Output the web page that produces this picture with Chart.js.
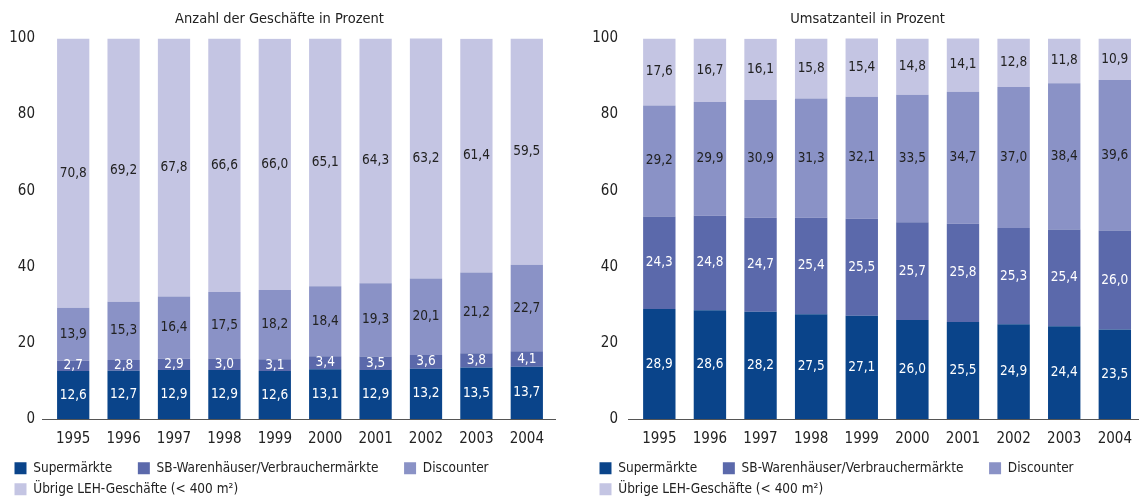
<!DOCTYPE html>
<html>
<head>
<meta charset="utf-8">
<script src="https://cdn.jsdelivr.net/npm/chart.js@4"></script>
<style>
    body { margin: 0; background: #fff; overflow: hidden; }
    #left { position: absolute; left: 0; top: 0; }
    #right { position: absolute; left: 570px; top: 0; }
</style>
</head>
<body>
<canvas id="left" width="570" height="506"></canvas>
<canvas id="right" width="573" height="506"></canvas>
<script>
// Data
let years = ['1995', '1996', '1997', '1998', '1999', '2000', '2001', '2002', '2003', '2004'];
let seriesNames = ['Supermärkte', 'SB-Warenhäuser/Verbrauchermärkte', 'Discounter', 'Übrige LEH-Geschäfte (< 400 m²)'];
let yTicks = [0, 20, 40, 60, 80, 100];

// Anzahl der Geschäfte
let countSuper = [12.6, 12.7, 12.9, 12.9, 12.6, 13.1, 12.9, 13.2, 13.5, 13.7];
let countSB = [2.7, 2.8, 2.9, 3.0, 3.1, 3.4, 3.5, 3.6, 3.8, 4.1];
let countDisc = [13.9, 15.3, 16.4, 17.5, 18.2, 18.4, 19.3, 20.1, 21.2, 22.7];
let countOther = [70.8, 69.2, 67.8, 66.6, 66.0, 65.1, 64.3, 63.2, 61.4, 59.5];

// Umsatzanteil
let salesSuper = [28.9, 28.6, 28.2, 27.5, 27.1, 26.0, 25.5, 24.9, 24.4, 23.5];
let salesSB = [24.3, 24.8, 24.7, 25.4, 25.5, 25.7, 25.8, 25.3, 25.4, 26.0];
let salesDisc = [29.2, 29.9, 30.9, 31.3, 32.1, 33.5, 34.7, 37.0, 38.4, 39.6];
let salesOther = [17.6, 16.7, 16.1, 15.8, 15.4, 14.8, 14.1, 12.8, 11.8, 10.9];

const colors = ['#0a448a', '#5b69ab', '#8a92c6', '#c4c5e3'];
const labelColors = ['#ffffff', '#ffffff', '#222222', '#222222'];
const fontFamily = "'Liberation Sans Narrow', 'DejaVu Sans Condensed', 'Arial Narrow', sans-serif";

// Writes the value into the middle of every bar segment
const valueLabels = {
    id: 'valueLabels',
    afterDatasetsDraw(chart) {
        let ctx = chart.ctx;
        ctx.save();
        ctx.font = '13.5px ' + fontFamily;
        ctx.textAlign = 'center';
        ctx.textBaseline = 'middle';
        chart.data.datasets.forEach((ds, i) => {
            let meta = chart.getDatasetMeta(i);
            ctx.fillStyle = labelColors[i];
            meta.data.forEach((bar, j) => {
                let y = (bar.y + bar.base) / 2;
                ctx.fillText(ds.data[j].toFixed(1).replace('.', ','), bar.x, y);
            });
        });
        ctx.restore();
    }
};

// Baseline at zero, a bit wider than the bars
const baseline = {
    id: 'baseline',
    afterDatasetsDraw(chart) {
        let ctx = chart.ctx;
        let area = chart.chartArea;
        let y = Math.round(chart.scales.y.getPixelForValue(0)) + 0.5;
        ctx.save();
        ctx.strokeStyle = '#555555';
        ctx.lineWidth = 1;
        ctx.beginPath();
        ctx.moveTo(area.left - 6, y);
        ctx.lineTo(area.right + 4, y);
        ctx.stroke();
        ctx.restore();
    }
};

function makeChart(id, title, values, pad, axisWidth, tickPad) {
    new Chart(document.getElementById(id), {
        type: 'bar',
        data: {
            labels: years,
            datasets: values.map((v, i) => ({
                label: seriesNames[i],
                data: v,
                backgroundColor: colors[i],
                borderWidth: 0,
                categoryPercentage: 1,
                barPercentage: 0.64
            }))
        },
        options: {
            responsive: false,
            animation: false,
            layout: { padding: { left: pad.left, right: pad.right, top: 0, bottom: 0 } },
            scales: {
                x: {
                    stacked: true,
                    afterFit: scale => { scale.height = 35; },
                    grid: { display: false, drawTicks: false },
                    border: { display: false },
                    ticks: { color: '#222', font: { family: fontFamily, size: 15 }, padding: 11 }
                },
                y: {
                    stacked: true,
                    min: 0,
                    max: 100,
                    afterBuildTicks: scale => { scale.ticks = yTicks.map(v => ({ value: v })); },
                    afterFit: scale => { scale.width = axisWidth; },
                    grid: { display: false, drawTicks: false },
                    border: { display: false },
                    ticks: { color: '#222', font: { family: fontFamily, size: 15 }, padding: tickPad }
                }
            },
            plugins: {
                title: {
                    display: true,
                    text: title,
                    color: '#222',
                    font: { family: fontFamily, size: 14.5, weight: 'normal' },
                    padding: { top: 11, bottom: 10 }
                },
                legend: {
                    position: 'bottom',
                    align: 'start',
                    labels: {
                        color: '#222',
                        font: { family: fontFamily, size: 13.5 },
                        boxWidth: 12,
                        boxHeight: 12,
                        padding: 7.5,
                        generateLabels: chart => {
                            let items = Chart.defaults.plugins.legend.labels.generateLabels(chart);
                            items.forEach((item, i) => {
                                item.lineWidth = 0;
                                if (i < items.length - 1) item.text = item.text + '\u2002\u2002\u2002';
                            });
                            return items;
                        }
                    }
                },
                tooltip: { enabled: false }
            }
        },
        plugins: [valueLabels, baseline]
    });
}

makeChart('left', 'Anzahl der Geschäfte in Prozent',
    [countSuper, countSB, countDisc, countOther],
    { left: 7, right: 18 }, 41, 13);

makeChart('right', 'Umsatzanteil in Prozent',
    [salesSuper, salesSB, salesDisc, salesOther],
    { left: 22, right: 0 }, 42, 16);
</script>
</body>
</html>
